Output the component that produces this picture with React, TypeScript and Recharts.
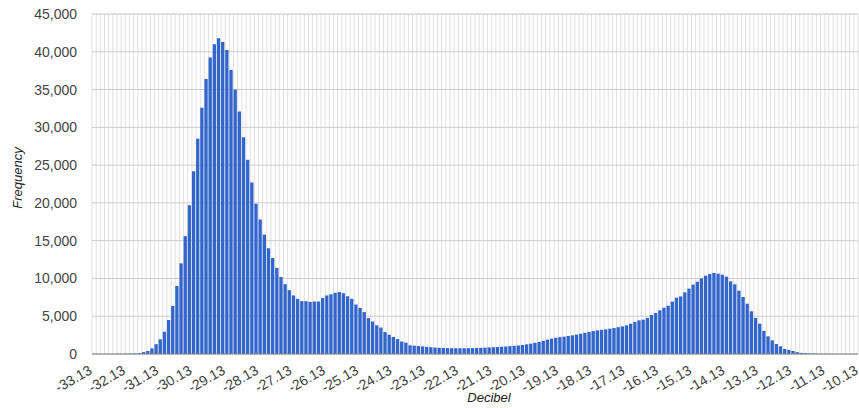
import React from "react";
import { BarChart, Bar, XAxis, YAxis, CartesianGrid } from "recharts";

// histogram buckets: 0.125 dB wide, starting at -33.13 dB
const FIRST_EDGE = -33.13;
const BIN_WIDTH = 0.125;

const frequency = [
  0, 0, 0, 0, 0, 0, 5, 10, 20, 35, 60,
  100, 250, 400, 750, 1300, 1950, 2950, 4500, 6350, 9000,
  12000, 15600, 19700, 24200, 28500, 32600, 36400, 39250, 41000, 41800,
  41300, 40250, 37600, 35000, 32100, 28700, 25700, 22700, 19900, 17800,
  15800, 14000, 12700, 11400, 10200, 9250, 8450, 7750, 7300, 7000,
  7000, 6900, 6950, 6950, 7400, 7750, 7900, 8100, 8200, 8050,
  7650, 7300, 6550, 6100, 5550, 4750, 4300, 3800, 3500, 2900,
  2550, 2250, 1980, 1650, 1500, 1150, 1100, 1050, 1000, 950,
  900, 850, 820, 800, 780, 770, 760, 760, 760, 770,
  780, 800, 820, 840, 870, 900, 930, 960, 1000, 1040,
  1080, 1130, 1200, 1280, 1370, 1480, 1600, 1750, 1900, 2030,
  2150, 2230, 2300, 2380, 2470, 2570, 2680, 2800, 2920, 3030,
  3130, 3200, 3270, 3350, 3450, 3550, 3660, 3790, 4015, 4235,
  4455, 4545, 4765, 5160, 5425, 5780, 6130, 6400, 6930, 7460,
  7630, 8160, 8650, 9180, 9575, 10015, 10370, 10590, 10720, 10630,
  10500, 10235, 9620, 9220, 8380, 7545, 6660, 5650, 4765, 4015,
  3045, 2340, 1810, 1325, 1015, 660, 530, 400, 250, 150,
  100, 60, 40, 20, 10, 5, 5, 0, 0, 0, 0, 0, 0,
];

const xTickLabels = [
  "-33.13", "-32.13", "-31.13", "-30.13", "-29.13", "-28.13", "-27.13", "-26.13",
  "-25.13", "-24.13", "-23.13", "-22.13", "-21.13", "-20.13", "-19.13", "-18.13",
  "-17.13", "-16.13", "-15.13", "-14.13", "-13.13", "-12.13", "-11.13", "-10.13",
];

const yTicks = [0, 5000, 10000, 15000, 20000, 25000, 30000, 35000, 40000, 45000];
const yMinorTicks = [2500, 7500, 12500, 17500, 22500, 27500, 32500, 37500, 42500];

const BINS_PER_LABEL = 8;
const FONT = "'Liberation Sans', Arial, sans-serif";

const data = frequency.map((count, i) => ({
  db: FIRST_EDGE + (i + 0.5) * BIN_WIDTH,
  count,
}));

const binEdges = Array.from(
  { length: frequency.length + 1 },
  (_, k) => FIRST_EDGE + k * BIN_WIDTH
);

function XTick(props: any) {
  const { x, y, payload } = props;
  const k = Math.round((payload.value - FIRST_EDGE) / BIN_WIDTH);
  if (k % BINS_PER_LABEL !== 0) return <g />;
  const tx = x + 1;
  const ty = y + 17;
  return (
    <text
      x={tx}
      y={ty}
      transform={`rotate(-30 ${tx} ${ty})`}
      textAnchor="end"
      fontSize={14}
      fontFamily={FONT}
      fill="#444"
    >
      {xTickLabels[k / BINS_PER_LABEL]}
    </text>
  );
}

function YTitle(props: any) {
  const { viewBox } = props;
  const cx = 17;
  const cy = viewBox.y + viewBox.height / 2 - 6;
  return (
    <text
      x={cx}
      y={cy}
      transform={`rotate(-90 ${cx} ${cy})`}
      textAnchor="middle"
      dominantBaseline="central"
      fontSize={13}
      fontStyle="italic"
      fontFamily={FONT}
      fill="#222"
    >
      Frequency
    </text>
  );
}

function XTitle(props: any) {
  const { viewBox } = props;
  const cx = viewBox.x + viewBox.width / 2 + 14;
  return (
    <text
      x={cx}
      y={402}
      textAnchor="middle"
      fontSize={13}
      fontStyle="italic"
      fontFamily={FONT}
      fill="#222"
    >
      Decibel
    </text>
  );
}

export default function App() {
  return (
    <div style={{ position: "absolute", left: 0, top: 0, background: "#fff" }}>
      <BarChart
        width={859}
        height={408}
        data={data}
        margin={{ top: 14, right: 1, bottom: 0, left: 0 }}
      >
        <CartesianGrid yAxisId="minor" vertical={false} stroke="#ebebeb" />
        <CartesianGrid horizontal={false} stroke="#e0e0e0" />
        <CartesianGrid vertical={false} stroke="#cccccc" />
        <XAxis
          dataKey="db"
          type="number"
          domain={[FIRST_EDGE, FIRST_EDGE + frequency.length * BIN_WIDTH]}
          ticks={binEdges}
          interval={0}
          tick={<XTick />}
          tickLine={false}
          tickSize={0}
          axisLine={{ stroke: "#888" }}
          height={54}
          allowDataOverflow
          label={<XTitle />}
        />
        <YAxis
          domain={[0, 45000]}
          ticks={yTicks}
          interval={0}
          width={92}
          axisLine={false}
          tickLine={false}
          tickSize={0}
          tickMargin={15}
          tick={{ fontSize: 14, fontFamily: FONT, fill: "#444" }}
          tickFormatter={(v: number) => v.toLocaleString("en-US")}
          label={<YTitle />}
        />
        <YAxis yAxisId="minor" domain={[0, 45000]} ticks={yMinorTicks} interval={0} hide />
        <Bar dataKey="count" fill="#3366cc" barSize={3.3} isAnimationActive={false} />
      </BarChart>
    </div>
  );
}
